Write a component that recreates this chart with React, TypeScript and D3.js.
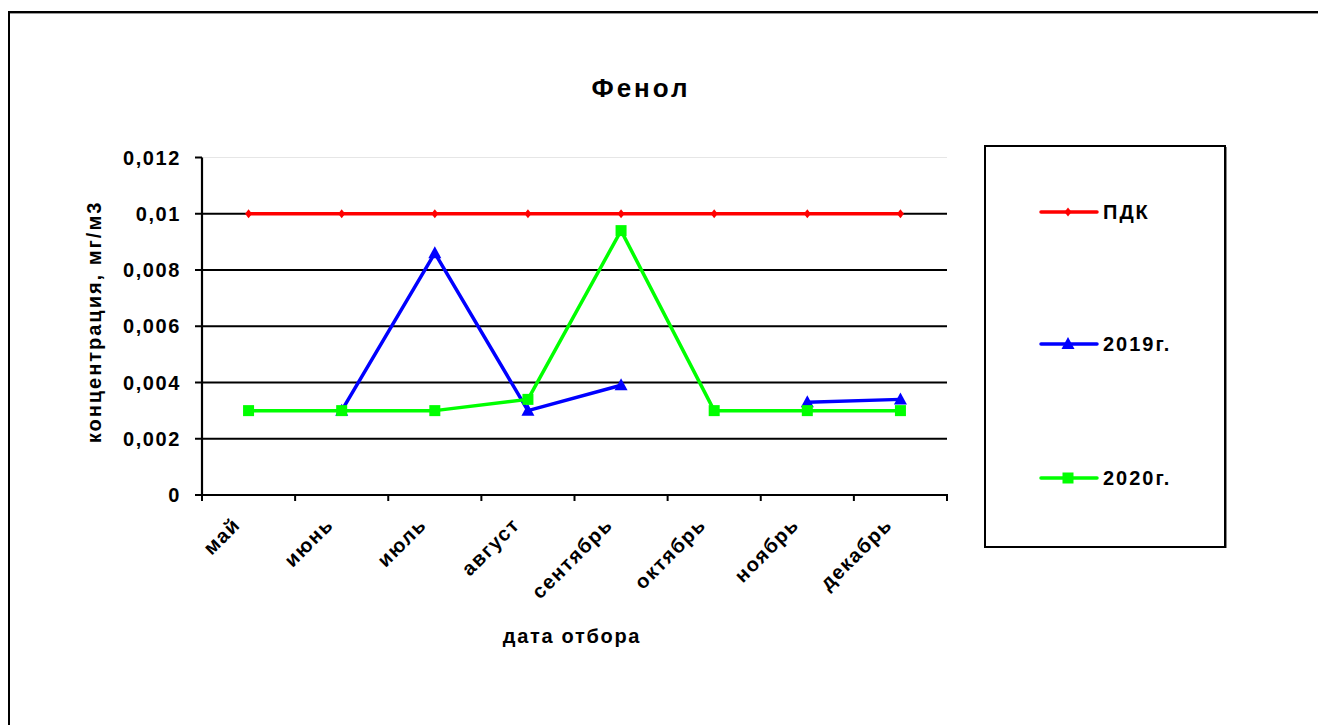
import React from "react";
import * as d3 from "d3";

const categories = ["май", "июнь", "июль", "август", "сентябрь", "октябрь", "ноябрь", "декабрь"];
const pdk = [0.01, 0.01, 0.01, 0.01, 0.01, 0.01, 0.01, 0.01];
const y2019: (number | null)[] = [null, 0.003, 0.0086, 0.003, 0.0039, null, 0.0033, 0.0034];
const y2020: (number | null)[] = [0.003, 0.003, 0.003, 0.0034, 0.0094, 0.003, 0.003, 0.003];
const yTicks = [0, 0.002, 0.004, 0.006, 0.008, 0.01, 0.012];
const yTickLabels = ["0", "0,002", "0,004", "0,006", "0,008", "0,01", "0,012"];
const seriesNames = ["ПДК", "2019г.", "2020г."];

const W = 1318, H = 725;
const left = 202, right = 947, top = 157.5, bottom = 495;

export default function App() {
  const x = d3.scaleBand<string>().domain(categories).range([left, right]);
  const y = d3.scaleLinear().domain([0, 0.012]).range([bottom, top]);
  const cx = (c: string) => (x(c) as number) + x.bandwidth() / 2;

  const line = d3
    .line<number | null>()
    .defined((d) => d !== null)
    .x((_, i) => cx(categories[i]))
    .y((d) => y(d as number));

  const font = "'Liberation Sans', Arial, sans-serif";
  const colors = ["#ff0000", "#0000ff", "#00ff00"];

  const diamond = (px: number, py: number, k: string | number) => (
    <path key={k} d={`M${px},${py - 4.5}L${px + 3.5},${py}L${px},${py + 4.5}L${px - 3.5},${py}Z`} fill={colors[0]} />
  );
  const tri = (px: number, py: number, k: string | number) => (
    <path key={k} d={`M${px},${py - 7}L${px + 6.5},${py + 5}L${px - 6.5},${py + 5}Z`} fill={colors[1]} />
  );
  const sq = (px: number, py: number, k: string | number) => (
    <rect key={k} x={px - 5.5} y={py - 5.5} width={11} height={11} fill={colors[2]} />
  );

  const legendRows = [212, 344, 478];
  const markers = [diamond, tri, sq];

  return (
    <svg width={W} height={H} style={{ position: "absolute", left: 0, top: 0, background: "#fff" }} fontFamily={font}>
      {/* outer border */}
      <rect x={9} y={12} width={1400} height={800} fill="none" stroke="#000" strokeWidth={2} />
      <line x1={10} y1={13.5} x2={W} y2={13.5} stroke="#999" strokeWidth={1} />

      {/* title */}
      <text x={641} y={97} textAnchor="middle" fontSize={26} fontWeight="bold" letterSpacing={3}>
        Фенол
      </text>

      {/* faint top line */}
      <line x1={left} x2={right} y1={y(0.012)} y2={y(0.012)} stroke="#e6e6e6" strokeWidth={1} />

      {/* gridlines */}
      {yTicks.slice(1, 6).map((t) => (
        <line key={t} x1={left} x2={right} y1={y(t)} y2={y(t)} stroke="#000" strokeWidth={2} />
      ))}

      {/* y axis */}
      <line x1={left} x2={left} y1={top} y2={bottom + 1} stroke="#000" strokeWidth={2.2} />
      {yTicks.map((t, i) => (
        <g key={t}>
          <line x1={left - 7} x2={left} y1={y(t)} y2={y(t)} stroke="#000" strokeWidth={2} />
          <text x={181} y={y(t)} dy="0.36em" textAnchor="end" fontSize={20} fontWeight="bold" letterSpacing={1.6}>
            {yTickLabels[i]}
          </text>
        </g>
      ))}

      {/* x axis */}
      <line x1={left - 1} x2={right + 1} y1={bottom} y2={bottom} stroke="#000" strokeWidth={2.2} />
      {[...categories.map((c) => x(c) as number), right].map((v, i) => (
        <line key={i} x1={v} x2={v} y1={bottom} y2={bottom + 6} stroke="#000" strokeWidth={2} />
      ))}
      {categories.map((c) => (
        <text
          key={c}
          transform={`translate(${cx(c) - 7},${526}) rotate(-45)`}
          textAnchor="end"
          fontSize={20}
          fontWeight="bold"
          letterSpacing={1.5}
        >
          {c}
        </text>
      ))}

      {/* axis titles */}
      <text x={572} y={643} textAnchor="middle" fontSize={20} fontWeight="bold" letterSpacing={1.7}>
        дата отбора
      </text>
      <text
        transform={`translate(101,${322}) rotate(-90)`}
        textAnchor="middle"
        fontSize={20}
        fontWeight="bold"
        letterSpacing={2}
      >
        концентрация, мг/м3
      </text>

      {/* series */}
      {[pdk, y2019, y2020].map((s, si) => (
        <g key={si}>
          <path d={line(s as (number | null)[]) || ""} fill="none" stroke={colors[si]} strokeWidth={3.5} strokeLinejoin="round" />
          {s.map((v, i) => (v === null ? null : markers[si](cx(categories[i]), y(v as number), i)))}
        </g>
      ))}

      {/* legend */}
      <rect x={985} y={146} width={240} height={401} fill="#fff" stroke="#000" strokeWidth={2} />
      <line x1={1226.5} y1={147} x2={1226.5} y2={548} stroke="#888" strokeWidth={1} />
      {seriesNames.map((n, i) => (
        <g key={n}>
          <line x1={1041} x2={1097} y1={legendRows[i]} y2={legendRows[i]} stroke={colors[i]} strokeWidth={3.5} strokeLinecap="round" />
          {markers[i](1068, legendRows[i], "m")}
          <text x={1103} y={legendRows[i]} dy="0.36em" fontSize={20} fontWeight="bold" letterSpacing={2}>
            {n}
          </text>
        </g>
      ))}
    </svg>
  );
}
